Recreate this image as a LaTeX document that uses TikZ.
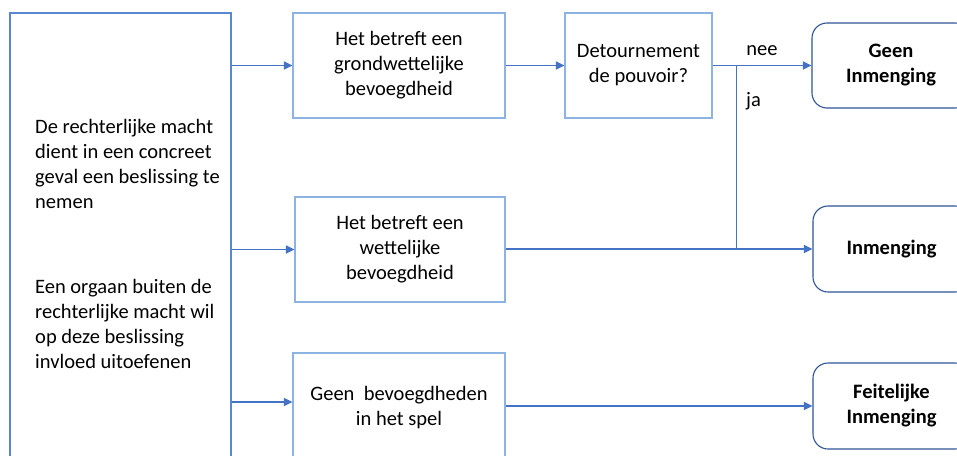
\documentclass[tikz,border=0pt]{standalone}
\usepackage{fontspec}
\setmainfont{Carlito}
\usetikzlibrary{arrows.meta}
\definecolor{linkblue}{HTML}{4472C4}
\definecolor{boxblue}{HTML}{8DB3E2}
\definecolor{leftblue}{HTML}{5B87D0}
\definecolor{roundblue}{HTML}{2F5597}
\begin{document}
\begin{tikzpicture}[x=1pt,y=-1pt,
  every node/.style={font=\fontsize{20.5}{25}\selectfont},
  sqbox/.style={draw=boxblue, line width=1.1pt, rectangle, align=center, inner sep=0pt},
  rbox/.style={draw=roundblue, line width=1.1pt, rounded corners=15pt, align=center, inner sep=0pt, font=\fontsize{20.5}{25}\selectfont\bfseries},
  conn/.style={draw=linkblue, line width=1.2pt},
  arr/.style={conn, -{Triangle[length=8.5pt,width=8pt]}},
  lbl/.style={inner sep=0pt}
]
\useasboundingbox (0,0) rectangle (957,455);
\fill[white] (0,0) rectangle (957,455);
\clip (0,0) rectangle (957,455);

\node[sqbox, draw=leftblue, minimum width=221pt, minimum height=462pt] (L) at (120.5,244) {};
\node[lbl, anchor=north west, align=left] (T) at (35,119.5) {De rechterlijke macht\\dient in een concreet\\geval een beslissing te\\nemen\\[60pt]Een orgaan buiten de\\rechterlijke macht wil\\op deze beslissing\\invloed uitoefenen};

\node[sqbox, minimum width=212pt, minimum height=105pt] (B1) at (399,65.5) {Het betreft een\\grondwettelijke\\bevoegdheid};
\node[sqbox, minimum width=147pt, minimum height=105pt] (Det) at (638.5,65.5) {Detournement\\de pouvoir?};
\node[rbox, minimum width=158pt, minimum height=85pt] (GI) at (891,65.5) {Geen\\Inmenging};
\node[sqbox, minimum width=210pt, minimum height=105pt] (B3) at (400,249.5) {Het betreft een\\wettelijke\\bevoegdheid};
\node[rbox, minimum width=157pt, minimum height=86pt] (Inm) at (891.5,249) {Inmenging};
\node[sqbox, minimum width=212pt, minimum height=110pt] (B4) at (399,408) {Geen\ \ bevoegdheden\\in het spel};
\node[rbox, minimum width=157pt, minimum height=86pt] (Feit) at (891.5,406) {Feitelijke\\Inmenging};

\draw[arr] (L.east |- B1.west) -- (B1.west);
\draw[arr] (B1.east) -- (Det.west);
\draw[arr] (Det.east) -- (GI.west);
\path (Det.east) ++(24,0) coordinate (J);
\draw[conn] (J) -- (J |- Inm.west);
\draw[arr] (L.east |- B3.west) -- (B3.west);
\draw[arr] (B3.east |- Inm.west) -- (Inm.west);
\coordinate (B4in) at ([yshift=6pt]B4.west);
\draw[arr] (L.east |- B4in) -- (B4in);
\draw[arr] (B4.east |- Feit.west) -- (Feit.west);

\node[lbl, anchor=base] (nee) at (762,55) {nee};
\node[lbl, anchor=base west] (ja) at (746,106) {ja};
\end{tikzpicture}
\end{document}
